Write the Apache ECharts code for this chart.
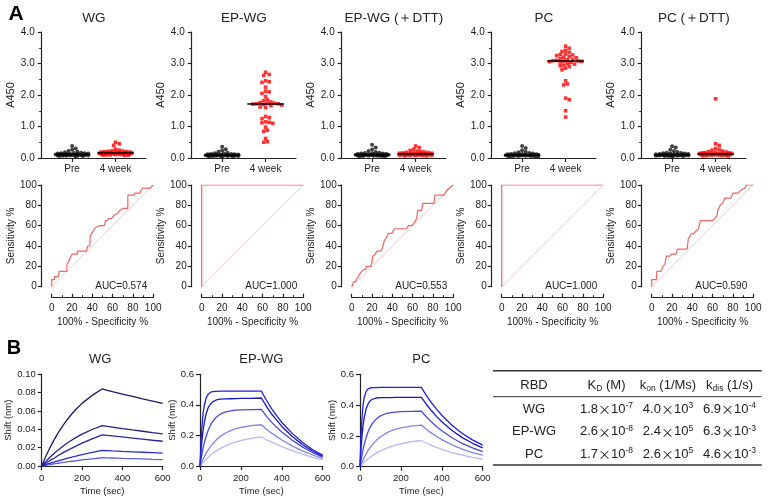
<!DOCTYPE html>
<html><head><meta charset="utf-8">
<script src="https://cdn.jsdelivr.net/npm/echarts@6/dist/echarts.min.js"></script>
<style>html,body{margin:0;padding:0;background:#fff}#c{width:768px;height:498px}</style>
</head><body><div id="c"></div>
<script>
// ---------- DATA ----------
const panelTitles = ['WG', 'EP-WG', 'EP-WG (＋DTT)', 'PC', 'PC (＋DTT)'];
const groupLabels = ['Pre', '4 week'];
const preWG      = [0.38,0.30,0.26,0.22,0.20,0.18,0.17,0.16,0.15,0.15,0.14,0.14,0.13,0.13,0.13,0.12,0.12,0.12,0.11,0.11,0.11,0.10,0.10,0.10,0.10,0.09,0.09,0.09,0.09,0.08,0.08,0.08,0.07,0.07,0.07,0.06,0.06,0.05];
const preEPWG    = [0.36,0.28,0.24,0.20,0.17,0.15,0.14,0.13,0.13,0.12,0.12,0.11,0.11,0.11,0.10,0.10,0.10,0.10,0.09,0.09,0.09,0.09,0.09,0.08,0.08,0.08,0.08,0.08,0.07,0.07,0.07,0.07,0.06,0.06,0.06,0.05,0.05,0.04];
const preEPWGDTT = [0.42,0.33,0.27,0.22,0.19,0.17,0.16,0.15,0.14,0.14,0.13,0.13,0.12,0.12,0.12,0.11,0.11,0.11,0.11,0.10,0.10,0.10,0.10,0.09,0.09,0.09,0.09,0.08,0.08,0.08,0.08,0.07,0.07,0.07,0.06,0.06,0.05,0.05];
const prePC      = [0.38,0.32,0.25,0.20,0.18,0.16,0.15,0.14,0.13,0.13,0.12,0.12,0.11,0.11,0.11,0.10,0.10,0.10,0.10,0.09,0.09,0.09,0.09,0.09,0.08,0.08,0.08,0.08,0.07,0.07,0.07,0.07,0.06,0.06,0.06,0.05,0.05,0.05];
const prePCDTT   = [0.37,0.33,0.26,0.22,0.19,0.17,0.16,0.15,0.14,0.14,0.13,0.13,0.12,0.12,0.12,0.11,0.11,0.11,0.10,0.10,0.10,0.10,0.09,0.09,0.09,0.09,0.09,0.08,0.08,0.08,0.08,0.07,0.07,0.07,0.06,0.06,0.06,0.05];
const wkWG       = [0.50,0.45,0.40,0.28,0.25,0.23,0.22,0.21,0.20,0.20,0.19,0.19,0.18,0.18,0.17,0.17,0.17,0.16,0.16,0.16,0.15,0.15,0.15,0.14,0.14,0.14,0.13,0.13,0.12,0.12,0.12,0.11,0.11,0.10,0.10,0.09,0.09,0.08];
const wkEPWG     = [2.72,2.65,2.62,2.45,2.42,2.40,2.25,2.12,2.10,2.05,1.95,1.85,1.82,1.78,1.76,1.74,1.73,1.72,1.72,1.71,1.70,1.68,1.66,1.62,1.60,1.32,1.28,1.25,1.15,1.13,1.12,1.10,0.98,0.88,0.85,0.62,0.52,0.50];
const wkEPWGDTT  = [0.38,0.33,0.28,0.24,0.22,0.20,0.19,0.18,0.17,0.16,0.16,0.15,0.15,0.14,0.14,0.14,0.13,0.13,0.13,0.12,0.12,0.12,0.12,0.11,0.11,0.11,0.10,0.10,0.10,0.10,0.09,0.09,0.09,0.08,0.08,0.08,0.07,0.07];
const wkPC       = [3.55,3.48,3.42,3.38,3.35,3.30,3.28,3.27,3.25,3.22,3.20,3.18,3.15,3.13,3.12,3.10,3.09,3.08,3.08,3.07,3.06,3.05,3.03,3.00,2.98,2.95,2.93,2.90,2.85,2.80,2.45,2.35,2.32,1.90,1.85,1.50,1.30];
const wkPCDTT    = [1.88,0.45,0.40,0.30,0.27,0.25,0.22,0.20,0.19,0.18,0.17,0.16,0.16,0.15,0.15,0.14,0.14,0.14,0.13,0.13,0.13,0.12,0.12,0.12,0.11,0.11,0.11,0.10,0.10,0.10,0.10,0.09,0.09,0.09,0.08,0.08,0.07,0.07];
const preGroups = [preWG, preEPWG, preEPWGDTT, prePC, prePCDTT];
const wkGroups  = [wkWG, wkEPWG, wkEPWGDTT, wkPC, wkPCDTT];
const a450Ticks = [0, 1, 2, 3, 4];

const aucLabels = ['AUC=0.574', 'AUC=1.000', 'AUC=0.553', 'AUC=1.000', 'AUC=0.590'];
const rocWG = [[0,0],[0,7],[2.5,7],[3,10],[6.5,10],[7.5,15],[15,15],[15,22],[17,25],[17.5,27],[19,27],[20,32],[25,32],[25.5,35],[34,35],[35,38],[35.5,40],[37.5,40],[38,50],[41,55],[43,58],[47,60],[52,60],[53,65],[55,65],[56,67],[59,67],[61,70],[65,72],[67,75],[70,77],[75,77],[75,90],[81,90],[82,92],[87,92],[88,95],[90,97],[97,97],[100,100]];
const rocEPWG = [[0,0],[0,100],[100,100]];
const rocEPWGDTT = [[0,0],[1.5,0],[2,5],[4,5],[4.5,7],[6,7],[6.5,10],[7.5,12],[9,12],[10,15],[12,17],[14,17],[14.5,20],[19,20],[20,25],[21,30],[23,32],[25,35],[29,35],[30,37],[32,45],[35,50],[36,52],[40,53],[42,57],[54,57],[56,60],[59,60],[61,62],[63,65],[64,67],[65,75],[69,75],[70,82],[81,82],[82,90],[91,90],[92,92],[94,95],[100,100]];
const rocPC = [[0,0],[0,100],[100,100]];
const rocPCDTT = [[0,0],[0,7],[4.6,7],[5,15],[9,15],[10,17],[11,20],[13,22],[14.5,30],[18,30],[19.5,32],[24,32],[25.5,37],[35,37],[36,47],[39,52],[41,52],[44,55],[46,57],[48,65],[60,65],[62,67],[64.5,70],[65,75],[67.5,80],[70,82],[72,87],[78,87],[80,92],[85,92],[88,95],[92,97],[93,100],[100,100]];
const rocCurves = [rocWG, rocEPWG, rocEPWGDTT, rocPC, rocPCDTT];
const rocDiagonal = [[0,0],[100,100]];

const bliTitles = ['WG', 'EP-WG', 'PC'];
const bliTime = [0,5,10,15,20,30,40,50,60,80,100,125,150,175,200,250,300,325,350,375,400,450,500,550,600];
const bliWG = [
  [0,0.0027,0.0053,0.0078,0.0103,0.0150,0.0196,0.0239,0.0280,0.0356,0.0425,0.0502,0.0570,0.0630,0.0683,0.0770,0.0840,0.0826,0.0811,0.0797,0.0784,0.0758,0.0732,0.0708,0.0683],
  [0,0.0013,0.0025,0.0037,0.0048,0.0071,0.0093,0.0114,0.0134,0.0173,0.0208,0.0248,0.0284,0.0317,0.0347,0.0398,0.0440,0.0432,0.0424,0.0416,0.0408,0.0393,0.0379,0.0364,0.0350],
  [0,0.0008,0.0015,0.0022,0.0030,0.0044,0.0058,0.0072,0.0085,0.0112,0.0137,0.0167,0.0195,0.0222,0.0249,0.0296,0.0340,0.0334,0.0328,0.0322,0.0317,0.0305,0.0293,0.0281,0.0270],
  [0,0.0004,0.0007,0.0011,0.0015,0.0022,0.0029,0.0036,0.0043,0.0056,0.0068,0.0083,0.0098,0.0111,0.0124,0.0148,0.0170,0.0168,0.0165,0.0163,0.0160,0.0155,0.0150,0.0145,0.0140],
  [0,0.0002,0.0004,0.0006,0.0008,0.0012,0.0015,0.0019,0.0023,0.0030,0.0036,0.0044,0.0052,0.0059,0.0066,0.0078,0.0090,0.0088,0.0087,0.0085,0.0083,0.0080,0.0077,0.0073,0.0070]
];
const bliEPWG = [
  [0,0.162,0.270,0.343,0.391,0.445,0.470,0.481,0.486,0.488,0.490,0.490,0.490,0.490,0.490,0.490,0.490,0.430,0.375,0.330,0.285,0.215,0.155,0.108,0.072],
  [0,0.097,0.173,0.232,0.278,0.342,0.381,0.404,0.418,0.432,0.437,0.439,0.440,0.441,0.442,0.443,0.445,0.390,0.340,0.300,0.259,0.195,0.141,0.098,0.065],
  [0,0.044,0.082,0.116,0.145,0.195,0.234,0.264,0.288,0.320,0.340,0.354,0.361,0.365,0.367,0.369,0.370,0.325,0.287,0.253,0.222,0.170,0.125,0.088,0.060],
  [0,0.016,0.031,0.046,0.059,0.084,0.106,0.125,0.142,0.171,0.194,0.216,0.232,0.244,0.252,0.264,0.270,0.241,0.215,0.192,0.170,0.132,0.099,0.072,0.050],
  [0,0.008,0.016,0.024,0.031,0.045,0.057,0.069,0.080,0.099,0.115,0.132,0.146,0.157,0.167,0.181,0.190,0.172,0.156,0.141,0.127,0.100,0.077,0.057,0.040]
];
const bliPC = [
  [0,0.202,0.326,0.400,0.446,0.489,0.506,0.511,0.513,0.514,0.515,0.515,0.515,0.515,0.515,0.515,0.515,0.462,0.415,0.372,0.334,0.269,0.216,0.174,0.140],
  [0,0.117,0.203,0.267,0.315,0.376,0.409,0.428,0.438,0.446,0.448,0.449,0.449,0.450,0.450,0.450,0.450,0.404,0.363,0.325,0.292,0.235,0.189,0.152,0.122],
  [0,0.042,0.080,0.113,0.141,0.190,0.228,0.257,0.280,0.311,0.330,0.344,0.351,0.355,0.357,0.359,0.360,0.323,0.290,0.260,0.233,0.188,0.151,0.122,0.098],
  [0,0.016,0.031,0.046,0.059,0.084,0.106,0.125,0.142,0.171,0.194,0.216,0.232,0.244,0.252,0.264,0.270,0.243,0.218,0.196,0.176,0.142,0.114,0.092,0.075],
  [0,0.007,0.014,0.021,0.028,0.040,0.051,0.062,0.071,0.088,0.103,0.118,0.131,0.141,0.149,0.162,0.170,0.154,0.139,0.125,0.113,0.092,0.075,0.061,0.050]
];
const bliSets = [bliWG, bliEPWG, bliPC];

const tableHeader = ['RBD', '{n|K}{sb|D}{n| (M)}', '{n|k}{sb|on}{n| (1/Ms)}', '{n|k}{sb|dis}{n| (1/s)}'];
const tableRBD = ['WG', 'EP-WG', 'PC'];
const tableKD   = [['1.8','-7'], ['2.6','-8'], ['1.7','-8']];
const tableKon  = [['4.0','3'], ['2.4','5'], ['2.6','5']];
const tableKdis = [['6.9','-4'], ['6.3','-3'], ['4.6','-3']];

// ---------- LAYOUT / STYLE ----------
const FONT = "'Liberation Sans', Arial, Helvetica, sans-serif";
const INK = '#222';
const SC = {left: 41.7, top: 32, width: 104.3, height: 126, xmin: -0.7, xmax: 1.7};
const XPX = SC.width / (SC.xmax - SC.xmin), YPX = SC.height / 4;
const ROC = {left: 51.7, top: 185, width: 101.5, height: 101.7};
const BLI = [
  {left: 41.7, top: 374.3, width: 121, height: 91.7},
  {left: 200, top: 374.3, width: 122.7, height: 91.7},
  {left: 360, top: 374.3, width: 122.7, height: 92.4}
];
const wgColors = ['#1a1a66', '#202082', '#2626a8', '#2b2bd2', '#5c5ce8'];
const bluColors = ['#1f1fe0', '#1616c8', '#4848e0', '#8282ec', '#b8b8f4'];

function swarm(vals, center) {
  const D = 3.6, STEP = 1.8, K = 9;
  const placed = [];
  const sorted = vals.slice().sort((a, b) => b - a);
  const cands = [0];
  for (let k = 1; k <= K; k++) { cands.push(k * STEP, -k * STEP); }
  return sorted.map(v => {
    const y = v * YPX;
    let bestX = 0, bestScore = -1, chosen = null;
    for (const x of cands) {
      let md = Infinity;
      for (const p of placed) { md = Math.min(md, Math.hypot(p[0] - x, p[1] - y)); }
      if (md >= D) { chosen = x; break; }
      if (md > bestScore) { bestScore = md; bestX = x; }
    }
    if (chosen === null) chosen = bestX;
    placed.push([chosen, y]);
    return [center + chosen / XPX, v];
  });
}
function median(a) { const s = a.slice().sort((x, y) => x - y); const n = s.length; return n % 2 ? s[(n - 1) / 2] : (s[n / 2 - 1] + s[n / 2]) / 2; }

const axLine = {show: true, onZero: false, lineStyle: {color: INK, width: 1.2}};
const lab = (size, extra) => Object.assign({color: INK, fontFamily: FONT, fontSize: size}, extra || {});

const grid = [], xAxis = [], yAxis = [], series = [], graphic = [];

// Panel A top: scatter plots
for (let i = 0; i < 5; i++) {
  const L = SC.left + 150 * i;
  grid.push({left: L, top: SC.top, width: SC.width, height: SC.height});
  xAxis.push({type: 'value', gridIndex: i, min: SC.xmin, max: SC.xmax, splitLine: {show: false}, axisLine: axLine,
    axisTick: {show: true, length: 4, customValues: [0, 1], lineStyle: {color: INK, width: 1.2}},
    axisLabel: lab(10, {margin: 6, customValues: [0, 1], formatter: v => groupLabels[Math.round(v)]})});
  yAxis.push({type: 'value', gridIndex: i, min: a450Ticks[0], max: a450Ticks[a450Ticks.length - 1], interval: 1, splitLine: {show: false}, axisLine: axLine,
    axisTick: {show: true, length: 4, lineStyle: {color: INK, width: 1.2}},
    minorTick: {show: true, splitNumber: 2, length: 2.5, lineStyle: {color: INK, width: 1}},
    axisLabel: lab(10, {margin: 7, formatter: v => v.toFixed(1)}),
    name: 'A450', nameLocation: 'middle', nameGap: 23, nameTextStyle: lab(11)});
  series.push({type: 'scatter', xAxisIndex: i, yAxisIndex: i, symbol: 'circle', symbolSize: 4, data: swarm(preGroups[i], 0), itemStyle: {color: '#111'}, z: 3});
  series.push({type: 'scatter', xAxisIndex: i, yAxisIndex: i, symbol: 'rect', symbolSize: 3.6, data: swarm(wkGroups[i], 1), itemStyle: {color: '#ff0000'}, z: 3});
  [[preGroups[i], 0], [wkGroups[i], 1]].forEach(([g, c]) => {
    const m = median(g);
    series.push({type: 'line', xAxisIndex: i, yAxisIndex: i, symbol: 'none', data: [[c - 0.42, m], [c + 0.42, m]], lineStyle: {color: '#000', width: 1.5}, z: 5});
  });
  graphic.push({type: 'text', x: L + SC.width / 2, y: 18, style: {text: panelTitles[i], font: '13.5px ' + FONT, fill: INK, align: 'center', verticalAlign: 'middle', textAlign: 'center', textVerticalAlign: 'middle'}});
}
// Panel A bottom: ROC curves
for (let i = 0; i < 5; i++) {
  const gi = 5 + i;
  const L = ROC.left + 150 * i;
  grid.push({left: L, top: ROC.top, width: ROC.width, height: ROC.height});
  xAxis.push({type: 'value', gridIndex: gi, min: 0, max: 100, interval: 20, offset: 11, splitLine: {show: false}, axisLine: axLine,
    axisTick: {show: true, inside: true, length: 4, lineStyle: {color: INK, width: 1.2}},
    minorTick: {show: true, splitNumber: 2, length: 2.5, lineStyle: {color: INK, width: 1}},
    axisLabel: lab(10, {margin: 6}),
    name: '100% - Specificity %', nameLocation: 'middle', nameGap: 20, nameTextStyle: lab(10)});
  yAxis.push({type: 'value', gridIndex: gi, min: 0, max: 100, interval: 20, offset: 10, splitLine: {show: false}, axisLine: axLine,
    axisTick: {show: true, length: 4, lineStyle: {color: INK, width: 1.2}},
    axisLabel: lab(10, {margin: 5}),
    name: 'Sensitivity %', nameLocation: 'middle', nameGap: 18, nameTextStyle: lab(10)});
  series.push({type: 'line', xAxisIndex: gi, yAxisIndex: gi, symbol: 'none', data: rocDiagonal, lineStyle: {color: '#f7b4b4', width: 0.8}, z: 2});
  series.push({type: 'line', xAxisIndex: gi, yAxisIndex: gi, symbol: 'none', data: rocCurves[i], lineStyle: {color: '#f26464', width: 1.2}, z: 3});
  graphic.push({type: 'text', x: L + ROC.width - 6, y: ROC.top + ROC.height, style: {text: aucLabels[i], font: '10px ' + FONT, fill: INK, align: 'right', verticalAlign: 'middle', textAlign: 'right', textVerticalAlign: 'middle'}});
}
// Panel B: sensorgrams
for (let k = 0; k < 3; k++) {
  const gi = 10 + k;
  const g = BLI[k];
  grid.push(g);
  const isWG = k === 0;
  xAxis.push({type: 'value', gridIndex: gi, min: 0, max: 600, interval: 200, splitLine: {show: false}, axisLine: axLine,
    axisTick: {show: true, length: 4, lineStyle: {color: INK, width: 1.2}},
    axisLabel: lab(9.5, {margin: 7}),
    name: 'Time (sec)', nameLocation: 'middle', nameGap: 20, nameTextStyle: lab(9.5)});
  yAxis.push({type: 'value', gridIndex: gi, min: 0, max: isWG ? 0.1 : 0.6, interval: isWG ? 0.02 : 0.2, splitLine: {show: false}, axisLine: axLine,
    axisTick: {show: true, length: 4, lineStyle: {color: INK, width: 1.2}},
    axisLabel: lab(9.5, {margin: 6, formatter: v => v.toFixed(isWG ? 2 : 1)}),
    name: 'Shift (nm)', nameLocation: 'middle', nameGap: isWG ? 26 : 21, nameTextStyle: lab(9.5)});
  const cols = isWG ? wgColors : bluColors;
  bliSets[k].forEach((vals, j) => {
    series.push({type: 'line', xAxisIndex: gi, yAxisIndex: gi, symbol: 'none', smooth: false,
      data: bliTime.map((t, n) => [t, vals[n]]), lineStyle: {color: cols[j], width: 1.3}, z: 3 + (4 - j)});
  });
  graphic.push({type: 'text', x: g.left + g.width / 2 + (isWG ? -2 : 0), y: 359, style: {text: bliTitles[k], font: '13px ' + FONT, fill: INK, align: 'center', verticalAlign: 'middle', textAlign: 'center', textVerticalAlign: 'middle'}});
}

// Panel letters
graphic.push({type: 'text', x: 16, y: 14.5, style: {text: 'A', font: 'bold 21px ' + FONT, fill: '#000', align: 'center', verticalAlign: 'middle', textAlign: 'center', textVerticalAlign: 'middle'}});
graphic.push({type: 'text', x: 14, y: 348, style: {text: 'B', font: 'bold 20px ' + FONT, fill: '#000', align: 'center', verticalAlign: 'middle', textAlign: 'center', textVerticalAlign: 'middle'}});

// Table
const TB = {x1: 493, x2: 761.7, yTop: 370.7, yHead: 396.7, yBot: 465, cols: [534, 606.5, 668, 729.5], headY: 385, rowY: [409, 431.7, 454]};
const rich = {
  n: {fontSize: 13, fontFamily: FONT, color: INK, lineHeight: 16},
  x: {fontSize: 13, fontFamily: "'Noto Sans CJK JP', " + FONT, color: INK, lineHeight: 16},
  s: {fontSize: 8.5, fontFamily: FONT, color: INK, verticalAlign: 'top', lineHeight: 10},
  sb: {fontSize: 8.5, fontFamily: FONT, color: INK, verticalAlign: 'bottom', lineHeight: 10}
};
function cellText(x, y, text) {
  graphic.push({type: 'text', x: x, y: y, style: {text: text, rich: rich, font: '13px ' + FONT, fill: INK, align: 'center', verticalAlign: 'middle', textAlign: 'center', textVerticalAlign: 'middle'}});
}
[[TB.yTop, 1.5], [TB.yHead, 1], [TB.yBot, 1.5]].forEach(([y, w]) => {
  graphic.push({type: 'line', shape: {x1: TB.x1, y1: y, x2: TB.x2, y2: y}, style: {stroke: '#333', lineWidth: w}});
});
tableHeader.forEach((h, c) => cellText(TB.cols[c], TB.headY, c === 0 ? '{n|' + h + '}' : h));
const sci = p => '{n|' + p[0] + '}{x|×}{n|10}{s|' + p[1] + '}';
tableRBD.forEach((r, i) => {
  cellText(TB.cols[0], TB.rowY[i], '{n|' + r + '}');
  cellText(TB.cols[1], TB.rowY[i], sci(tableKD[i]));
  cellText(TB.cols[2], TB.rowY[i], sci(tableKon[i]));
  cellText(TB.cols[3], TB.rowY[i], sci(tableKdis[i]));
});

const chart = echarts.init(document.getElementById('c'), null, {renderer: 'canvas'});
chart.setOption({
  animation: false,
  backgroundColor: '#fff',
  textStyle: {fontFamily: FONT},
  grid, xAxis, yAxis, series, graphic
});
</script></body></html>
